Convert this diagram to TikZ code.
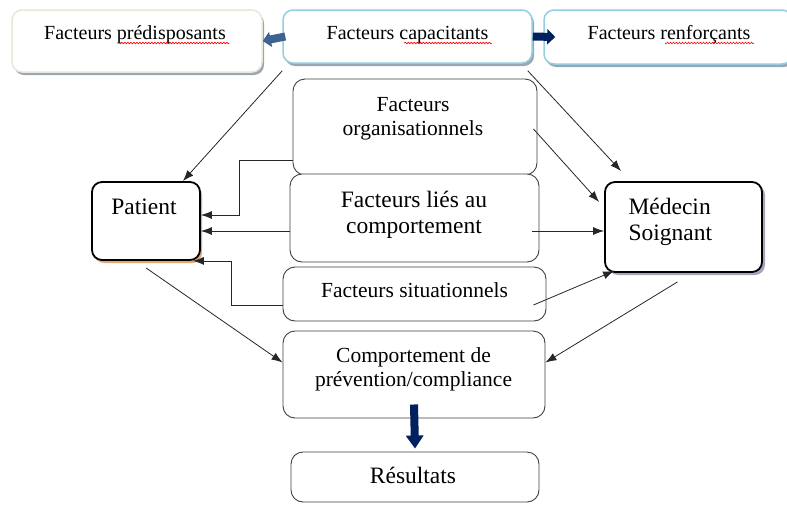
\documentclass[tikz,border=0pt]{standalone}
\usepackage{fontspec}
\setmainfont{Liberation Serif}
\usetikzlibrary{arrows.meta,shadows,decorations.pathmorphing}
\definecolor{cream}{RGB}{234,231,214}
\definecolor{skyline}{RGB}{150,205,222}
\definecolor{shade}{RGB}{128,144,166}
\definecolor{steel}{RGB}{62,98,146}
\definecolor{navy}{RGB}{0,32,96}
\definecolor{peach}{RGB}{226,168,118}
\definecolor{lilac}{RGB}{150,140,172}
\newcommand{\fsTop}{\fontsize{20}{24}\selectfont}
\newcommand{\fsMid}{\fontsize{21.5}{23.5}\selectfont}
\newcommand{\fsBig}{\fontsize{23.5}{25.5}\selectfont}
\tikzstyle{topbox} = [rectangle, rounded corners=10pt, line width=1.5pt, fill=white, drop shadow={shadow xshift=2pt, shadow yshift=-3pt, fill=shade, opacity=0.8}]
\tikzstyle{box} = [rectangle, rounded corners=12pt, draw=black!75, line width=0.9pt, fill=white]
\tikzstyle{actor} = [rectangle, rounded corners=10pt, draw=black, line width=1.8pt, fill=white]
\tikzstyle{flow} = [draw=black!85, line width=0.8pt, -{Latex[length=11pt,width=8pt]}]
\tikzstyle{block} = [line width=8pt, -{Triangle[length=8pt,width=15pt]}]
\tikzstyle{spell} = [red, line width=0.6pt, decorate, decoration={snake, amplitude=0.8pt, segment length=3pt}]

\begin{document}
\begin{tikzpicture}[x=1pt, y=-1pt]
			\useasboundingbox (0,0) rectangle (787,504);
			\node[topbox, draw=cream, minimum width=250pt, minimum height=62pt] (pred) at (137,41) {};
			\node[topbox, draw=skyline, minimum width=249pt, minimum height=53pt] (capa) at (407.5,36.5) {};
			\node[topbox, draw=skyline, minimum width=248pt, minimum height=54pt] (renf) at (668,37) {};
			\node[anchor=base, font=\fsTop] (predT) at (135,39) {Facteurs prédisposants};
			\node[anchor=base, font=\fsTop] (capaT) at (407.5,39) {Facteurs capacitants};
			\node[anchor=base, font=\fsTop] (renfT) at (669,39) {Facteurs renforçants};
			\draw[spell] ([yshift=-4pt]predT.base east) -- ++(-110,0);
			\draw[spell] ([yshift=-4pt]capaT.base east) -- ++(-88,0);
			\draw[spell] ([yshift=-4pt]renfT.base east) -- ++(-89,0);
			\draw[block, steel] ([xshift=3pt]capa.west) -- (pred.east);
			\draw[block, navy] (capa.east) -- ([xshift=12pt]renf.west);

			\node[box, minimum width=244pt, minimum height=96pt] (orga) at (415,127) {};
			\node[box, minimum width=249pt, minimum height=88pt] (lies) at (414.5,218) {};
			\node[box, minimum width=263pt, minimum height=54pt] (situ) at (414.5,294) {};
			\node[box, minimum width=262pt, minimum height=87pt] (comp) at (414,374.5) {};
			\node[box, minimum width=248pt, minimum height=50pt] (res) at (415,477) {};
			\node[anchor=base, align=center, font=\fsMid] (orgaT) at (413,135) {Facteurs\\organisationnels};
			\node[anchor=base, align=center, font=\fsBig] (liesT) at (414,233) {Facteurs liés au\\comportement};
			\node[anchor=base, font=\fsMid] (situT) at (414.5,297) {Facteurs situationnels};
			\node[anchor=base, align=center, font=\fsMid] (compT) at (413.5,386) {Comportement de\\prévention/compliance};
			\node[anchor=base, font=\fsBig] (resT) at (413,483) {Résultats};

			\node[actor, minimum width=108pt, minimum height=78pt, drop shadow={shadow xshift=2pt, shadow yshift=-3pt, fill=peach, opacity=1}] (pat) at (146,221) {};
			\node[actor, minimum width=157pt, minimum height=90pt, drop shadow={shadow xshift=3pt, shadow yshift=-3pt, fill=lilac, opacity=0.8}] (med) at (683.5,227) {};
			\node[anchor=base, font=\fsBig] (patT) at (144,214) {Patient};
			\node[anchor=base west, align=left, font=\fsBig] (medT) at (625,240) {Médecin\\Soignant};

			\draw[flow] ([yshift=-7pt]capa.south west) -- ([xshift=-18pt]pat.north east);
			\draw[flow] ([xshift=-5pt,yshift=-7pt]capa.south east) -- ([xshift=17pt,yshift=10pt]med.north west);
			\draw[flow] ([xshift=-4pt,yshift=-2pt]orga.east) -- ([xshift=-5pt,yshift=25pt]med.west);
			\draw[flow] ([yshift=-33pt]orga.west) -- ++(-53,0) |- ([yshift=6pt]pat.east);
			\draw[flow] ([yshift=-13pt]lies.west) -- ([yshift=-10pt]pat.east);
			\draw[flow] ([xshift=-7pt,yshift=-13pt]lies.east) -- ([yshift=-4pt]med.west);
			\draw[flow] ([yshift=-11pt]situ.west) -- ++(-51,0) |- ([xshift=-8pt]pat.south east);
			\draw[flow] ([xshift=-13pt,yshift=-11pt]situ.east) -- ([xshift=10pt,yshift=2pt]med.south west);
			\draw[flow] ([yshift=-7pt]pat.south) -- ([yshift=12pt]comp.west);
			\draw[flow] ([xshift=-6pt,yshift=-9pt]med.south) -- ([yshift=12pt]comp.east);
			\draw[block, navy, -{Triangle[length=13pt,width=17pt]}] ([yshift=-30pt]comp.center) -- ([yshift=3pt]res.north);
		\end{tikzpicture}
\end{document}
